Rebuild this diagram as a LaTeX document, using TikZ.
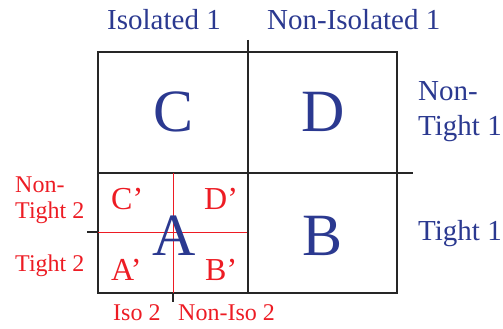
\documentclass[tikz,border=0pt]{standalone}
\usepackage{fontspec}
\setmainfont{Liberation Serif}
\definecolor{quadblue}{RGB}{43,57,144}
\definecolor{quadred}{RGB}{237,28,36}
\begin{document}
\begin{tikzpicture}[x=1pt,y=-1pt,
  lab/.style={inner sep=0pt,anchor=base west,text=quadblue,font=\fontsize{29}{35}\selectfont},
  sublab/.style={inner sep=0pt,anchor=base west,text=quadred,font=\fontsize{24}{26}\selectfont},
  big/.style={inner sep=0pt,anchor=base,text=quadblue,font=\fontsize{60}{60}\selectfont},
  prime/.style={inner sep=0pt,anchor=base west,text=quadred,font=\fontsize{32}{32}\selectfont},
  thinline/.style={draw=black!85,line width=1.2pt},
  thickline/.style={draw=black!85,line width=2.6pt},
  redline/.style={draw=quadred,line width=1pt}]
\useasboundingbox (0,0) rectangle (503,329);
% outer frame and the two main dividers
\draw[thinline] (98,52) rectangle (397,293);
\draw[thinline] (248,40)--(248,52);
\draw[thinline] (397,173)--(413,173);
\draw[thickline] (248,52)--(248,293);
\draw[thickline] (98,173)--(397,173);
% split of quadrant A
\draw[redline] (173,173)--(173,293);
\draw[redline] (98,232)--(247,232);
\draw[thinline] (173,293)--(173,302);
\draw[thinline] (87,232)--(98,232);
% level 1 labels
\node[lab] (iso1) at (107,30) {Isolated 1};
\node[lab] (noniso1) at (267,30) {Non-Isolated 1};
\node[lab,align=left] (nontight1) at (418,135) {Non-\\Tight 1};
\node[lab] (tight1) at (418,240) {Tight 1};
\node[big] (qc) at (174,131) {C};
\node[big] (qd) at (323,131) {D};
\node[big] (qa) at (174,255) {A};
\node[big] (qb) at (323,255) {B};
% level 2 labels
\node[sublab,align=left] (nontight2) at (15,218) {Non-\\Tight 2};
\node[sublab] (tight2) at (15,271) {Tight 2};
\node[sublab] (iso2) at (113,320) {Iso 2};
\node[sublab] (noniso2) at (178,320) {Non-Iso 2};
\node[prime] (pc) at (111,209) {C’};
\node[prime] (pd) at (204,209) {D’};
\node[prime] (pa) at (111,280) {A’};
\node[prime] (pb) at (205,280) {B’};
\end{tikzpicture}
\end{document}
